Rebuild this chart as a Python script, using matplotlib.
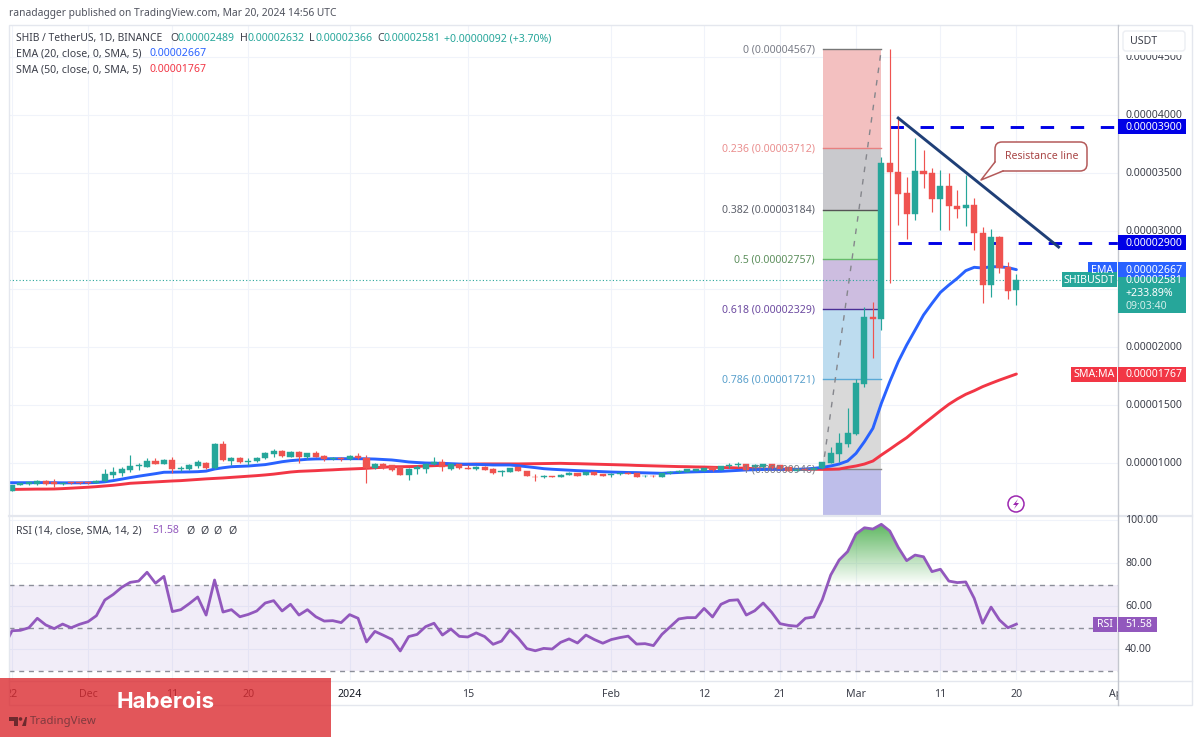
#!/usr/bin/env python3
"""SHIB / USDT daily chart with fib retracement, EMA, SMA and RSI pane"""

import numpy as np
import matplotlib
matplotlib.use('Agg')
import matplotlib.pyplot as plt
from matplotlib.patches import Rectangle, FancyBboxPatch, Polygon, Circle, PathPatch

FONT = 'Noto Sans'
plt.rcParams['font.family'] = FONT

# prices are in units of 0.00000001
candle_open = [761, 810, 816, 816, 848, 839, 816, 836, 836, 836, 830, 848, 897, 911, 940, 971, 968, 1017, 994, 1026,
               951, 951, 977, 1003, 960, 1161, 1020, 1043, 1009, 1017, 1040, 1078, 1103, 1055, 1095, 1052, 1089, 1057, 1032, 1043,
               1032, 1063, 1046, 954, 994, 980, 963, 899, 951, 951, 991, 1011, 951, 988, 957, 945, 968, 948, 920, 922,
               963, 931, 882, 879, 885, 882, 899, 911, 897, 922, 902, 894, 905, 917, 911, 885, 891, 882, 911, 920,
               925, 934, 934, 963, 940, 974, 986, 991, 963, 963, 991, 980, 963, 934, 952, 942, 955, 1003, 1077, 1161,
               1250, 1681, 2256, 2244, 3589, 3512, 3325, 3147, 3520, 3497, 3279, 3388, 3218, 3201, 3221, 2986, 2535, 2951, 2687, 2489]
candle_high = [812, 828, 838, 851, 853, 859, 835, 840, 838, 840, 851, 951, 963, 963, 1066, 997, 1040, 1043, 1037, 1055,
               974, 991, 1026, 1006, 1170, 1193, 1049, 1055, 1043, 1049, 1092, 1121, 1112, 1100, 1103, 1089, 1106, 1066, 1055, 1055,
               1066, 1089, 1069, 997, 1003, 983, 966, 954, 983, 997, 1049, 1032, 997, 991, 983, 974, 971, 954, 940, 960,
               966, 934, 905, 897, 891, 902, 920, 914, 925, 925, 905, 910, 913, 921, 914, 893, 895, 914, 934, 940,
               948, 950, 960, 968, 978, 1003, 1009, 995, 990, 995, 994, 985, 968, 960, 958, 960, 1010, 1140, 1255, 1471,
               1721, 2348, 2390, 3641, 4567, 3971, 3468, 3799, 3698, 3540, 3526, 3497, 3353, 3483, 3282, 3037, 3014, 2960, 2736, 2632]
candle_low = [755, 806, 810, 812, 810, 796, 812, 822, 820, 822, 825, 839, 868, 891, 925, 940, 963, 988, 988, 917,
              934, 940, 954, 951, 945, 1017, 983, 997, 983, 1011, 1037, 1049, 1055, 1050, 997, 1032, 1049, 1020, 1026, 1020,
              1029, 1032, 825, 948, 948, 934, 897, 853, 905, 911, 986, 928, 940, 948, 945, 940, 937, 902, 888, 920,
              931, 888, 848, 871, 876, 878, 894, 888, 894, 897, 888, 882, 900, 905, 876, 880, 880, 878, 908, 915,
              920, 930, 930, 935, 936, 957, 968, 937, 958, 958, 950, 948, 930, 928, 938, 936, 950, 997, 1005, 1140,
              1240, 1652, 1902, 2146, 2555, 3052, 2928, 3095, 3368, 3167, 3009, 3009, 3109, 3043, 2836, 2382, 2434, 2635, 2411, 2366]
candle_close = [807, 825, 833, 848, 816, 816, 830, 825, 825, 827, 848, 902, 920, 948, 974, 980, 1020, 991, 1026, 945,
                960, 980, 1006, 954, 1161, 1026, 1043, 1009, 1020, 1043, 1089, 1103, 1060, 1097, 1055, 1083, 1055, 1032, 1040, 1034,
                1063, 1040, 954, 994, 954, 940, 899, 951, 963, 991, 1006, 963, 991, 954, 951, 968, 942, 911, 928, 957,
                934, 891, 876, 885, 879, 899, 911, 891, 922, 899, 891, 908, 911, 908, 879, 891, 885, 911, 922, 934,
                945, 945, 957, 940, 974, 986, 991, 940, 983, 991, 954, 951, 934, 950, 942, 955, 1006, 1083, 1169, 1255,
                1687, 2256, 2244, 3589, 3509, 3319, 3147, 3520, 3491, 3279, 3388, 3215, 3193, 3224, 2980, 2535, 2951, 2678, 2486, 2581]

# the indicator lists start one day before the first visible candle
ema20 = [830, 830, 830, 830, 831, 831, 830, 829, 829, 829, 830, 832, 838, 848, 861, 874, 886, 897, 908, 920, 921,
         922, 923, 925, 930, 948, 959, 968, 971, 974, 980, 986, 998, 1011, 1020, 1026, 1032, 1035, 1036, 1037, 1037,
         1037, 1037, 1036, 1034, 1030, 1026, 1018, 1009, 1004, 1000, 998, 997, 994, 991, 989, 988, 986, 983, 983, 983,
         976, 968, 960, 951, 946, 942, 938, 934, 931, 928, 925, 922, 920, 918, 917, 915, 913, 911, 915, 918,
         922, 924, 926, 927, 928, 932, 936, 940, 942, 944, 945, 945, 945, 945, 948, 954, 962, 974, 991, 1017,
         1083, 1184, 1299, 1514, 1701, 1873, 2017, 2146, 2276, 2376, 2471, 2534, 2592, 2658, 2687, 2681, 2692, 2692, 2684, 2667]
sma50 = [771, 772, 773, 774, 775, 775, 776, 779, 783, 787, 791, 796, 802, 808, 816, 825, 829, 833, 837, 841, 845,
         848, 853, 858, 863, 867, 871, 876, 881, 886, 891, 897, 904, 913, 922, 928, 931, 934, 938, 941, 945,
         948, 951, 954, 959, 963, 968, 968, 969, 970, 974, 977, 980, 983, 986, 989, 991, 992, 992, 992, 992,
         992, 993, 994, 995, 996, 997, 995, 994, 992, 990, 988, 986, 984, 982, 979, 977, 975, 973, 971, 969,
         968, 966, 965, 963, 961, 960, 957, 954, 951, 948, 946, 945, 945, 945, 945, 946, 945, 946, 948, 962,
         974, 991, 1017, 1069, 1118, 1169, 1218, 1278, 1336, 1393, 1451, 1506, 1552, 1592, 1623, 1658, 1687, 1715, 1741, 1767]
rsi14 = [40.6, 48.5, 48.7, 49.9, 54.3, 51.2, 49.5, 51.6, 49.9, 51.5, 52.7, 55.5, 62.8, 65.4, 68.7, 71.0, 71.6, 75.7, 70.6, 73.8, 57.4,
         58.3, 61.1, 64.2, 55.8, 72.1, 57.2, 58.3, 55.0, 56.1, 57.7, 61.4, 62.5, 57.7, 60.8, 55.8, 58.3, 55.0, 53.0, 53.2, 52.3,
         56.0, 54.3, 43.3, 48.2, 46.4, 44.5, 39.1, 45.8, 46.8, 50.4, 52.0, 46.5, 49.3, 45.9, 45.6, 47.5, 45.8, 42.2, 43.7, 48.9,
         45.0, 40.2, 39.2, 40.3, 40.0, 43.1, 44.7, 42.8, 46.5, 44.4, 42.7, 44.4, 45.3, 46.0, 42.3, 42.5, 41.6, 46.8, 50.4, 54.0,
         54.6, 54.6, 58.9, 54.9, 60.8, 62.6, 62.9, 55.8, 57.8, 61.4, 57.1, 51.8, 51.0, 50.6, 54.3, 54.9, 62.9, 74.4, 81.4, 85.3,
         93.5, 96.4, 95.8, 98.0, 94.9, 87.3, 81.1, 83.7, 82.9, 76.0, 77.1, 71.6, 70.9, 71.2, 63.6, 52.0, 59.5, 53.5, 49.9, 51.58]

fib_ratios = ['0', '0.236', '0.382', '0.5', '0.618', '0.786', '1']
fib_prices = [4567, 3712, 3184, 2757, 2329, 1721, 946]
fib_bands = ['#f3c0c0', '#c9c9cd', '#bdeebd', '#cdbde0', '#bddcef', '#d9d9d9', '#bebeea']
fib_lines = ['#777777', '#e88080', '#555555', '#66bb6a', '#4a2f96', '#5aa9d6', '#888888']
fib_labels = ['#787b86', '#ea8f8f', '#5d606b', '#5d8f5d', '#6c4aa0', '#5aa0cc', '#787b86']

price_ticks = [1000, 1500, 2000, 2500, 3000, 3500, 4000, 4500]
price_tick_labels = ['0.00001000', '0.00001500', '0.00002000', None, '0.00003000', '0.00003500', '0.00004000', '0.00004500']
rsi_ticks = [40, 60, 80, 100]
time_tick_idx = [0, 9, 19, 28, 40, 54, 71, 82, 91, 100, 110, 119, 131]
time_tick_labels = ['22', 'Dec', '11', '20', '2024', '15', 'Feb', '12', '21', 'Mar', '11', '20', 'Apr']

W, H = 1200, 737
GREEN = '#26a69a'
RED = '#ef5350'
BLUE = '#2962ff'
SMA_RED = '#f23645'
PURPLE = '#9258bd'
TEXT = '#3c3f4a'
GRID = '#f0f3fa'
XLIM = (-0.355, 131.04)


def pane(left, top, right, bottom):
    """Axes placed by pixel box"""
    a = fig.add_axes([left / W, (H - bottom) / H, (right - left) / W, (bottom - top) / H])
    a.set_xlim(*XLIM)
    a.set_xticks([])
    a.set_yticks([])
    for s in a.spines.values():
        s.set_visible(False)
    return a


fig = plt.figure(figsize=(W / 100, H / 100), dpi=100, facecolor='white')
ax = pane(9, 25, 1118, 516)
ax.set_ylim(543, 4776)
ax_rsi = pane(9, 517, 1118, 680)
ax_rsi.set_ylim(25.6, 101.4)
ax_time = pane(9, 681, 1118, 705)
ax_time.set_ylim(0, 1)

# overlay in pixel coordinates for the labels and tags
ov = fig.add_axes([0, 0, 1, 1], zorder=10)
ov.set_xlim(0, W)
ov.set_ylim(H, 0)
ov.axis('off')
ov.patch.set_alpha(0)

# grid
for t in time_tick_idx[:-1]:
    ax.axvline(t, color=GRID, lw=0.8, zorder=0)
    ax_rsi.axvline(t, color=GRID, lw=0.8, zorder=0)
for p in price_ticks:
    ax.axhline(p, color=GRID, lw=0.8, zorder=0)
for r in rsi_ticks:
    ax_rsi.axhline(r, color=GRID, lw=0.8, zorder=0)

# fib retracement
band_edges = fib_prices + [ax.get_ylim()[0]]
for i, col in enumerate(fib_bands):
    ax.fill_between([96.05, 103], band_edges[i + 1], band_edges[i], color=col, lw=0, zorder=1)
for p, col in zip(fib_prices, fib_lines):
    ax.plot([96.05, 103], [p, p], color=col, lw=1, zorder=1.5)
ax.plot([96.05, 103], [fib_prices[-1], fib_prices[0]], color='#85868c', lw=1, dashes=(4, 5), zorder=1.6)

# last price line
ax.plot([XLIM[0], XLIM[1]], [candle_close[-1]] * 2, color=GREEN, lw=0.8, dashes=(1, 2), zorder=1.8)

# horizontal levels sit behind the candles
ax.plot([104, XLIM[1]], [3900, 3900], color='#0000e6', lw=2.1, dashes=(4.6, 5.7), zorder=1.9)
ax.plot([105, XLIM[1]], [2900, 2900], color='#0000e6', lw=2.1, dashes=(4.6, 5.7), zorder=1.9)

# moving averages, also behind the candles
idx = np.arange(len(candle_open))
line_idx = np.arange(-1, len(candle_open))
ax.plot(line_idx, sma50, color=SMA_RED, lw=2.1, zorder=2, solid_capstyle='round')
ax.plot(line_idx, ema20, color=BLUE, lw=2.1, zorder=2.1, solid_capstyle='round')

# candles
o = np.array(candle_open)
c = np.array(candle_close)
colors = [GREEN if cl >= op else RED for op, cl in zip(o, c)]
ax.vlines(idx, candle_low, candle_high, colors=colors, lw=0.85, zorder=3)
ax.bar(idx, np.abs(c - o), bottom=np.minimum(o, c), width=0.72, color=colors, edgecolor=colors, lw=0.3, zorder=3.2)

# trend line
ax.plot([105, 124], [3974, 2862], color='#1f3f77', lw=2.1, zorder=4)

# RSI pane
ax_rsi.axhspan(30, 70, color='#7e57c2', alpha=0.1, lw=0, zorder=1)
for r in [70, 50, 30]:
    ax_rsi.axhline(r, color='#8c8f99', lw=1, dashes=(3.6, 3.4), zorder=1.5)
rsi_arr = np.array(rsi14)
over = ax_rsi.fill_between(line_idx, rsi_arr, 70, where=rsi_arr > 70, interpolate=True, color='none')
grad = np.zeros((100, 2, 4))
grad[:, :, 0] = 0.30
grad[:, :, 1] = 0.69
grad[:, :, 2] = 0.31
grad[:, :, 3] = np.linspace(0.95, 0.0, 100)[:, None]
img = ax_rsi.imshow(grad, extent=[90, 120, 70, 100], aspect='auto', zorder=2)
clip_path = None
for path in over.get_paths():
    if path.vertices[:, 0].min() > 90:
        clip_path = path
clip_patch = PathPatch(clip_path, transform=ax_rsi.transData, fc='none', ec='none')
ax_rsi.add_patch(clip_patch)
img.set_clip_path(clip_patch)
ax_rsi.set_xlim(*XLIM)
ax_rsi.set_ylim(25.6, 101.4)
ax_rsi.plot(line_idx, rsi14, color=PURPLE, lw=2.0, zorder=3)

# time axis, Apr gets cut by the price scale
for t, lab in zip(time_tick_idx, time_tick_labels):
    bold = lab == '2024'
    ax_time.text(t, 0.44, lab, ha='center', va='center', fontsize=7.6, clip_on=True,
                 color='#131722' if bold else TEXT, fontweight='bold' if bold else 'normal')


def px_price(p):
    return H - ax.transData.transform((0, p))[1]


def px_rsi(r):
    return H - ax_rsi.transData.transform((0, r))[1]


def label(x, y, s, color=TEXT, size=7.6, ha='left', z=8, **kw):
    # centre of the glyphs sits a little high otherwise
    return ov.text(x, y + 0.8, s, color=color, fontsize=size, ha=ha, va='center', zorder=z, **kw)


def tag(x0, x1, y0, y1, col, z=6):
    ov.add_patch(Rectangle((x0, y0), x1 - x0, y1 - y0, fc=col, ec='none', zorder=z))


# frame
ov.add_patch(Rectangle((9, 25), 1183, 680, fc='none', ec='#e4e7ee', lw=1, zorder=1))
ov.plot([9, 1192], [516, 516], color='#e4e7ee', lw=1.6, zorder=1)
ov.plot([9, 1192], [680.5, 680.5], color='#e4e7ee', lw=1, zorder=1)
ov.plot([1118, 1118], [25, 705], color='#c4c7cf', lw=1, zorder=1)

# fib labels
for ratio, p, col in zip(fib_ratios, fib_prices, fib_labels):
    label(815, px_price(p), f'{ratio} (0.{p:08d})', color=col, ha='right', z=2)

# price scale
for p, lab in zip(price_ticks, price_tick_labels):
    if lab:
        label(1125, px_price(p), lab, z=3)
for r in rsi_ticks:
    label(1125, px_rsi(r), f'{r:.2f}', z=3)

# the currency button hides the top of the last tick label
tag(1119, 1191, 27, 54.5, 'white', z=3.5)
ov.add_patch(FancyBboxPatch((1123, 31), 62, 20, boxstyle='round,pad=0,rounding_size=3',
                            fc='white', ec='#eceef3', lw=1, zorder=4))
label(1130, 41, 'USDT', z=5)

# price tags
for p in [3900, 2900]:
    y = px_price(p)
    tag(1118, 1186, y - 7.5, y + 7.5, '#0000e6')
    label(1125, y, f'0.{p:08d}', color='white')

y = px_price(ema20[-1])
tag(1088, 1117, y - 7.5, y + 7.5, BLUE)
label(1102.5, y, 'EMA', color='white', ha='center')
tag(1118, 1186, y - 7.5, y + 7.5, BLUE)
label(1125, y, f'0.{ema20[-1]:08d}', color='white')

y = px_price(candle_close[-1])
tag(1062, 1117, y - 7.5, y + 7.5, GREEN)
label(1089.5, y, 'SHIBUSDT', color='white', ha='center')
tag(1118, 1186, y - 8, y + 33.5, GREEN, z=5.5)
label(1125, y, f'0.{candle_close[-1]:08d}', color='white')
label(1125, y + 13, '+233.89%', color='white')
label(1125, y + 26, '09:03:40', color='#d2eeea')

y = px_price(sma50[-1])
tag(1071, 1117, y - 7.5, y + 7.5, SMA_RED)
label(1094, y, 'SMA:MA', color='white', ha='center')
tag(1118, 1186, y - 7.5, y + 7.5, SMA_RED)
label(1125, y, f'0.{sma50[-1]:08d}', color='white')

y = px_rsi(rsi14[-1])
tag(1093, 1117, y - 7.5, y + 7.5, PURPLE)
label(1105, y, 'RSI', color='white', ha='center')
tag(1118, 1157, y - 7.5, y + 7.5, PURPLE)
label(1125, y, f'{rsi14[-1]:.2f}', color='white')

# resistance callout
ov.add_patch(FancyBboxPatch((995, 142), 92, 29, boxstyle='round,pad=0,rounding_size=7',
                            fc='white', ec='#b45a5a', lw=1.1, zorder=4))
ov.add_patch(Polygon([(995.8, 162), (981, 180), (1003, 170.2)], closed=True, fc='white', ec='none', zorder=4.1))
ov.plot([995, 981, 1003], [162, 180, 171], color='#b45a5a', lw=1.1, zorder=4.2)
label(1041.5, 155.5, 'Resistance line', color='#a84545', size=7.6, ha='center', z=5)

# lightning icon
ov.add_patch(Circle((1016, 504), 8, fc='white', ec='#9c27b0', lw=1.1, zorder=4))
ov.add_patch(Polygon([(1018, 499), (1013, 505), (1016, 505), (1014, 509), (1019, 503), (1016, 503)],
                     closed=True, fc='#9c27b0', ec='none', zorder=4.1))

# legend rows
label(9, 13, 'ranadagger published on TradingView.com, Mar 20, 2024 14:56 UTC', color='#50535e', size=7.38)
label(16, 38, 'SHIB / TetherUS, 1D, BINANCE', size=7.4)
ohlc = [('O', 170, 177, '0.00002489'), ('H', 240, 247, '0.00002632'),
        ('L', 309, 315, '0.00002366'), ('C', 377, 384, '0.00002581')]
for key, x0, x1, val in ohlc:
    label(x0, 38, key)
    label(x1, 38, val, color=GREEN)
label(444, 38, '+0.00000092 (+3.70%)', color=GREEN)
label(16, 53, 'EMA (20, close, 0, SMA, 5)')
label(150, 53, '0.00002667', color=BLUE)
label(16, 69, 'SMA (50, close, 0, SMA, 5)')
label(150, 69, '0.00001767', color=SMA_RED)
label(16, 530, 'RSI (14, close, SMA, 14, 2)')
label(152, 530, '51.58', color=PURPLE)
for x in [186, 200, 213, 228]:
    label(x, 530, '\u00d8')

# watermark box goes over the time labels
ov.add_patch(Rectangle((0, 678), 331, 59, fc='#da262b', ec='none', alpha=0.78, zorder=9))
ov.text(166, 702, 'Haberois', color='white', fontsize=16, fontweight='bold', family='Inter',
        ha='center', va='center', zorder=10)

# TradingView mark, shows dimmed through the box
LOGO = '#6e2a2e'
ov.add_patch(Polygon([(9, 717), (18, 717), (18, 726), (14, 726), (14, 721), (9, 721)],
                     closed=True, fc=LOGO, ec='none', zorder=9.5))
ov.add_patch(Circle((20.5, 719), 1.8, fc=LOGO, ec='none', zorder=9.5))
ov.add_patch(Polygon([(22, 726), (25.5, 717), (27, 717), (26, 726)], closed=True, fc=LOGO, ec='none', zorder=9.5))
label(30, 721, 'TradingView', color='#7f3a3f', size=8.2, z=9.5)

fig.savefig('out.png', dpi=100)
